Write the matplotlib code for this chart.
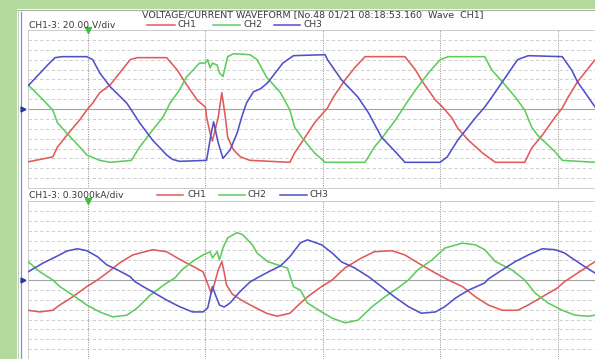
import matplotlib.pyplot as plt
from matplotlib.lines import Line2D
from matplotlib.patches import Rectangle
from matplotlib.transforms import blended_transform_factory

W, H = 595, 359

# time axis in ms (10 ms per major division)
XLIM = (-5.11, 43.19)
MAJOR_T = [0, 10, 20, 30, 40]

# voltage traces, V
v_ch1_t = [-5.1, -3.0, -2.6, -1.8, -0.7, -0.1, 0.4, 1.0, 1.9, 2.7,
           3.6, 4.2, 6.7, 7.6, 8.3, 9.3, 10.0, 10.1, 10.4, 10.6,
           11.1, 11.4, 11.7, 11.9, 12.4, 13.0, 13.8, 17.2, 17.6, 18.5,
           19.3, 20.4, 20.9, 21.9, 22.7, 23.6, 27.0, 27.9, 28.5, 29.6,
           30.2, 31.0, 31.5, 32.4, 33.6, 34.7, 37.2, 37.8, 38.7, 39.8,
           40.4, 40.9, 41.7, 43.2]
v_ch1 = [-107, -97, -77, -53, -22, -2, 12, 33, 49, 73,
         100, 104, 104, 79, 53, 18, 4, -16, -49, -65,
         -16, 33, -16, -57, -83, -97, -104, -108, -89, -57,
         -28, 2, 24, 59, 83, 106, 106, 79, 55, 18,
         4, -18, -39, -63, -89, -108, -108, -79, -53, -16,
         2, 24, 55, 100]

v_ch2_t = [-5.1, -3.8, -3.0, -2.6, -1.8, -0.7, -0.1, 1.0, 1.9, 3.7,
           4.4, 5.3, 6.4, 7.0, 7.8, 8.4, 9.5, 10.0, 10.2, 10.4,
           10.6, 11.0, 11.2, 11.5, 11.7, 11.9, 12.4, 13.8, 14.4, 15.2,
           16.4, 17.2, 17.6, 18.2, 19.3, 20.2, 23.6, 24.4, 25.1, 26.2,
           27.3, 28.1, 29.0, 30.0, 30.7, 33.8, 34.4, 35.3, 36.4, 37.2,
           37.8, 38.3, 39.8, 40.4, 43.2]
v_ch2 = [49, 18, -2, -28, -49, -77, -93, -104, -108, -104,
         -77, -49, -16, 12, 39, 65, 93, 93, 100, 83,
         93, 89, 73, 66, 86, 106, 112, 110, 100, 65,
         33, -2, -37, -57, -89, -108, -108, -77, -57, -22,
         18, 45, 73, 100, 106, 106, 79, 55, 24, -2,
         -37, -53, -87, -104, -108]

v_ch3_t = [-5.1, -3.2, -2.8, -2.2, -0.1, 0.4, 1.0, 1.9, 3.3, 3.8,
           4.4, 5.5, 6.7, 7.2, 7.8, 10.1, 10.5, 10.7, 11.1, 11.5,
           12.1, 12.7, 13.1, 13.5, 14.1, 14.7, 15.3, 16.6, 17.5, 20.2,
           20.4, 21.6, 23.0, 23.9, 25.0, 26.2, 27.0, 30.0, 30.6, 31.5,
           33.0, 33.8, 34.4, 35.3, 36.6, 37.5, 40.4, 41.2, 41.7, 43.2]
v_ch3 = [47, 95, 104, 106, 106, 100, 73, 45, 12, -6,
         -28, -63, -93, -102, -106, -104, -49, -26, -69, -100,
         -83, -49, -16, 12, 35, 41, 53, 93, 108, 110,
         100, 59, 24, -8, -57, -87, -108, -108, -97, -63,
         -18, 4, 24, 55, 100, 108, 106, 79, 55, 4]

# current traces, kA
i_ch1_t = [-5.1, -4.1, -3.0, -2.4, -1.3, -0.1, 0.8, 1.6, 2.7, 3.8,
           5.5, 6.7, 7.6, 8.7, 9.8, 10.2, 10.5, 10.7, 11.1, 11.4,
           11.6, 11.8, 12.3, 13.2, 14.1, 15.2, 16.1, 17.2, 18.1, 18.7,
           19.9, 20.8, 21.9, 23.3, 24.4, 25.9, 27.0, 28.1, 29.6, 30.7,
           31.9, 33.0, 34.1, 35.3, 36.6, 37.5, 38.7, 40.0, 40.6, 41.7,
           43.2]
i_ch1 = [-0.92, -0.97, -0.92, -0.76, -0.51, -0.20, 0.00, 0.21, 0.52, 0.76,
         0.92, 0.86, 0.67, 0.46, 0.25, -0.12, -0.40, -0.21, 0.31, 0.56,
         0.24, -0.15, -0.43, -0.64, -0.81, -1.01, -1.10, -1.01, -0.70, -0.51,
         -0.20, 0.00, 0.37, 0.67, 0.86, 0.89, 0.76, 0.52, 0.21, 0.00,
         -0.20, -0.51, -0.76, -0.92, -0.92, -0.76, -0.51, -0.24, -0.05, 0.21,
         0.56]

i_ch2_t = [-5.1, -4.1, -3.0, -2.4, -1.3, -0.1, 1.0, 2.1, 3.3, 4.2,
           5.3, 6.7, 7.4, 8.0, 8.9, 9.8, 10.4, 10.6, 11.0, 11.2,
           11.5, 11.9, 12.7, 13.2, 14.0, 14.4, 15.3, 17.0, 17.5, 18.1,
           18.7, 19.9, 20.8, 21.9, 23.0, 24.2, 25.3, 26.4, 27.3, 28.1,
           29.3, 30.4, 31.9, 33.0, 33.8, 34.7, 36.1, 37.2, 38.1, 39.2,
           40.4, 41.5, 42.6, 43.2]
i_ch2 = [0.56, 0.25, 0.00, -0.20, -0.46, -0.76, -0.97, -1.12, -1.07, -0.85,
         -0.46, -0.09, 0.06, 0.31, 0.56, 0.76, 0.86, 0.67, 0.86, 0.61,
         0.98, 1.28, 1.44, 1.37, 1.07, 0.82, 0.56, 0.36, -0.20, -0.31,
         -0.70, -0.97, -1.16, -1.30, -1.22, -0.81, -0.51, -0.24, 0.00, 0.31,
         0.61, 0.97, 1.12, 1.07, 0.92, 0.56, 0.31, 0.00, -0.40, -0.70,
         -0.92, -1.07, -1.10, -1.07]

i_ch3_t = [-5.1, -3.8, -2.6, -1.8, -0.9, -0.1, 0.8, 1.6, 2.5, 3.6,
           4.0, 4.7, 5.5, 6.7, 7.8, 8.9, 9.8, 10.2, 10.5, 10.6,
           10.9, 11.2, 11.6, 12.1, 12.9, 13.8, 14.7, 15.5, 16.4, 17.2,
           18.1, 18.7, 19.9, 20.8, 21.6, 22.7, 23.9, 25.0, 26.1, 27.3,
           28.4, 29.6, 30.4, 31.3, 32.4, 33.8, 34.1, 35.3, 36.4, 37.5,
           38.7, 39.8, 40.6, 41.2, 42.3, 43.2]
i_ch3 = [0.25, 0.52, 0.73, 0.88, 0.95, 0.89, 0.71, 0.46, 0.31, 0.10,
         -0.05, -0.20, -0.36, -0.61, -0.81, -0.97, -0.97, -0.85, -0.37, -0.20,
         -0.49, -0.76, -0.82, -0.70, -0.37, -0.06, 0.12, 0.27, 0.43, 0.71,
         1.13, 1.22, 1.07, 0.82, 0.55, 0.37, 0.10, -0.20, -0.51, -0.81,
         -1.01, -0.97, -0.81, -0.55, -0.31, -0.09, 0.03, 0.31, 0.56, 0.76,
         0.95, 0.92, 0.82, 0.67, 0.41, 0.21]

CH_NAMES = ["CH1", "CH2", "CH3"]
CH_COLORS = ["#e05a5a", "#5ccc5c", "#5050c8"]
TEXT_COLOR = "#3a3a3a"
FONT = "DejaVu Sans"


def fx(px):
    return px / W


def fy(py):
    return 1 - py / H


def fig_line(fig, x0, x1, y0, y1, **kw):
    fig.add_artist(Line2D([fx(x0), fx(x1)], [fy(y0), fy(y1)],
                          transform=fig.transFigure, **kw))


def header(fig, y, label, legend_x):
    fig.text(fx(29), fy(y), label, fontsize=6.6, color=TEXT_COLOR,
             family=FONT, ha="left", va="center")
    for name, color, (lx0, lx1, tx) in zip(CH_NAMES, CH_COLORS, legend_x):
        fig_line(fig, lx0, lx1, y, y, color=color, lw=1.1)
        fig.text(fx(tx), fy(y), name, fontsize=6.6, color=TEXT_COLOR,
                 family=FONT, ha="left", va="center")


def setup_panel(fig, ax, step, traces):
    ax.set_facecolor("none")
    ax.set_xlim(*XLIM)
    ax.set_ylim(-8 * step, 8 * step)
    ax.set_xticks([])
    ax.set_yticks([])
    for side in ("top", "left", "bottom"):
        ax.spines[side].set_color("#c4c4c4")
        ax.spines[side].set_linewidth(0.6)
    ax.spines["right"].set_visible(False)

    for k in range(-7, 8):
        if k == 0:
            ax.axhline(0, color="#a4a4a4", lw=0.8, zorder=1)
        else:
            ax.axhline(k * step, color="#c6c6c6", lw=0.6,
                       dashes=(4, 3), zorder=1)
    for t in MAJOR_T:
        ax.axvline(t, color="#8e8e8e", lw=0.7, dashes=(1, 1.4), zorder=1)

    for (t, y), color in zip(traces, CH_COLORS):
        ax.plot(t, y, color=color, lw=1.15, zorder=3,
                solid_joinstyle="round", solid_capstyle="round")

    # trigger marker on the top edge and zero-level arrow on the left
    ax.plot(MAJOR_T[0], 8 * step, marker="v", ms=5, color="#3cbf3c",
            clip_on=False, zorder=5)
    trans = blended_transform_factory(fig.transFigure, ax.transData)
    ax.plot(fx(22.5), 0, marker=">", ms=3.5, color="#2a3a9a",
            transform=trans, clip_on=False, zorder=5)


def main():
    fig = plt.figure(figsize=(W / 100, H / 100), dpi=100)
    fig.patch.set_facecolor("#b4d99c")

    # white window with its borders
    fig.add_artist(Rectangle((fx(17), 0), 1 - fx(17), fy(9),
                             transform=fig.transFigure, fc="white",
                             ec="none", zorder=-10))
    fig_line(fig, 17, 595, 9.5, 9.5, color="#a8b0a8", lw=0.8, zorder=-5)
    fig_line(fig, 17.5, 17.5, 9.5, 359, color="#c8ccc8", lw=0.8, zorder=-5)
    fig_line(fig, 20.5, 20.5, 12, 359, color="#8290c4", lw=0.9, zorder=-5)

    fig.text(fx(313), fy(14.6),
             "VOLTAGE/CURRENT WAVEFORM [No.48 01/21 08:18:53.160  Wave  CH1]",
             fontsize=6.8, color=TEXT_COLOR, family=FONT,
             ha="center", va="center")

    ax_v = fig.add_axes([fx(28), fy(188), fx(595) - fx(28), (188 - 30) / H])
    setup_panel(fig, ax_v, 20.0,
                [(v_ch1_t, v_ch1), (v_ch2_t, v_ch2), (v_ch3_t, v_ch3)])
    header(fig, 24.6, "CH1-3: 20.00 V/div",
           [(147, 175, 178), (213, 240, 243), (274, 300, 303)])

    ax_i = fig.add_axes([fx(28), 0, fx(595) - fx(28), (359 - 201) / H])
    setup_panel(fig, ax_i, 0.3,
                [(i_ch1_t, i_ch1), (i_ch2_t, i_ch2), (i_ch3_t, i_ch3)])
    header(fig, 194.5, "CH1-3: 0.3000kA/div",
           [(157, 183, 187), (219, 245, 248), (280, 307, 310)])

    fig.savefig("out.png", dpi=100, facecolor=fig.get_facecolor())


if __name__ == "__main__":
    main()
